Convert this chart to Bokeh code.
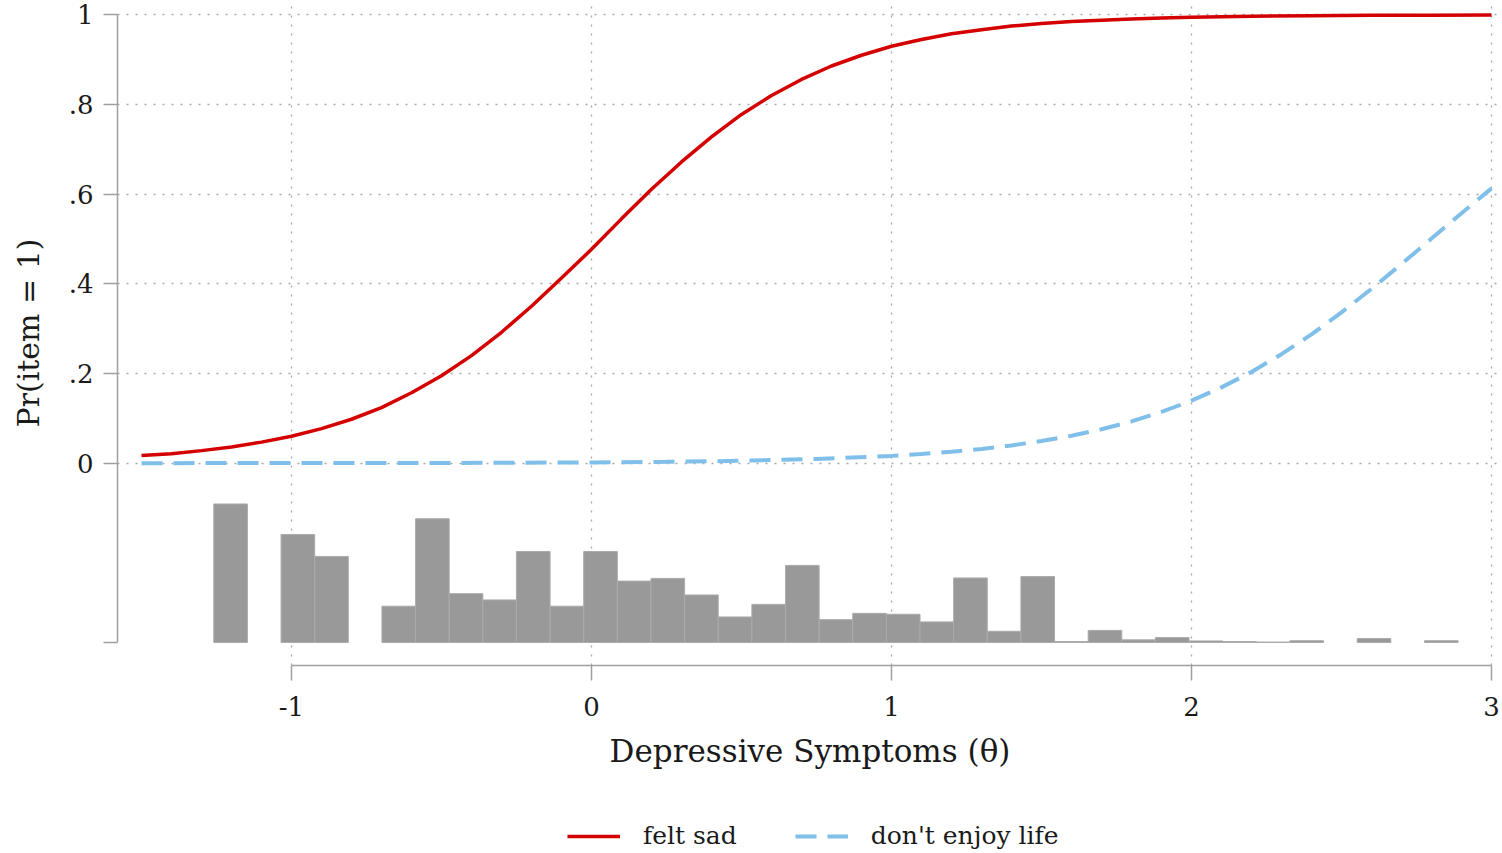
import numpy as np
from bokeh.plotting import figure
from bokeh.layouts import column
from bokeh.models import Range1d, FixedTicker, Legend, LegendItem, ColumnDataSource
from bokeh.embed import file_html
from bokeh.resources import INLINE

# ---- data ----
theta_sad = [-1.5, -1.4, -1.3, -1.2, -1.1, -1.0, -0.9, -0.8, -0.7, -0.6, -0.5, -0.4, -0.3,
             -0.2, -0.1, 0.0, 0.1, 0.2, 0.3, 0.4, 0.5, 0.6, 0.7, 0.8, 0.9, 1.0, 1.1, 1.2,
             1.3, 1.4, 1.5, 1.6, 1.7, 1.8, 1.9, 2.0, 2.2, 2.4, 2.6, 2.8, 3.0]
pr_sad = [0.017, 0.021, 0.028, 0.036, 0.047, 0.060, 0.077, 0.098, 0.124, 0.157, 0.195, 0.240,
          0.292, 0.350, 0.413, 0.477, 0.545, 0.611, 0.672, 0.728, 0.778, 0.820, 0.856, 0.886,
          0.910, 0.930, 0.945, 0.958, 0.967, 0.975, 0.981, 0.985, 0.988, 0.991, 0.993,
          0.995, 0.997, 0.998, 0.999, 0.999, 1.000]

theta_enjoy = [-1.5, -1.0, -0.5, 0.0, 0.25, 0.5, 0.75, 1.0, 1.1, 1.2, 1.3, 1.4, 1.5, 1.6,
               1.7, 1.8, 1.9, 2.0, 2.1, 2.2, 2.3, 2.4, 2.5, 2.6, 2.7, 2.8, 2.9, 3.0]
pr_enjoy = [0.0001, 0.0002, 0.0005, 0.0017, 0.003, 0.0053, 0.0093, 0.0163, 0.0204, 0.0255,
            0.0318, 0.0396, 0.0493, 0.0611, 0.0756, 0.0931, 0.1143, 0.1394, 0.1691, 0.2036,
            0.2431, 0.2874, 0.3363, 0.3889, 0.4442, 0.5010, 0.5577, 0.6130]

# histogram of theta (drawn below the curves, heights in plot units above the base)
hist_start = -1.259
hist_width = 0.1121
hist_base = -0.4
hist_heights = [0.309, 0.0, 0.241, 0.192, 0.0, 0.081, 0.276, 0.109, 0.095, 0.203, 0.081,
                0.203, 0.137, 0.143, 0.106, 0.057, 0.085, 0.172, 0.051, 0.065, 0.063, 0.046,
                0.144, 0.025, 0.147, 0.002, 0.027, 0.006, 0.011, 0.0035, 0.002, 0.001, 0.004,
                0.0, 0.009, 0.0, 0.004]

x_ticks = [-1, 0, 1, 2, 3]
x_tick_labels = ["-1", "0", "1", "2", "3"]
y_ticks = [0, 0.2, 0.4, 0.6, 0.8, 1]
y_tick_labels = ["0", ".2", ".4", ".6", ".8", "1"]

series_labels = ["felt sad", "don't enjoy life"]
x_title = "Depressive Symptoms (θ)"
y_title = "Pr(item = 1)"

FONT = "DejaVu Serif"
RED = "#d40000"
BLUE = "#80bfea"
AXIS = "#a0a0a0"
SAD_STYLE = dict(line_color=RED, line_width=3.5)
ENJOY_STYLE = dict(line_color=BLUE, line_width=4, line_dash="21 11")

p = figure(width=1502, height=780, output_backend="svg", toolbar_location=None,
           x_range=Range1d(-1.58, 3.0367), y_range=Range1d(-0.4513, 1.0321),
           min_border_left=117, min_border_right=0, min_border_top=0,
           min_border_bottom=115)
p.outline_line_color = None
p.background_fill_color = "white"
p.border_fill_color = "white"

# histogram
edges = hist_start + hist_width * np.arange(len(hist_heights) + 1)
h = np.array(hist_heights)
mask = h > 0
src = ColumnDataSource(dict(left=edges[:-1][mask], right=edges[1:][mask],
                            top=hist_base + h[mask], bottom=np.full(mask.sum(), hist_base)))
p.quad(left="left", right="right", top="top", bottom="bottom", source=src,
       fill_color="#999999", line_color="#ababab", line_width=1)

p.line(theta_sad, pr_sad, **SAD_STYLE)
p.line(theta_enjoy, pr_enjoy, **ENJOY_STYLE)

# axes
for ax in (p.xaxis, p.yaxis):
    ax.axis_line_color = AXIS
    ax.axis_line_width = 1.5
    ax.major_tick_line_color = AXIS
    ax.major_tick_line_width = 1.5
    ax.major_tick_in = 0
    ax.minor_tick_line_color = None
    ax.major_label_text_font = FONT
    ax.major_label_text_font_size = "26px"
    ax.major_label_text_color = "#1a1a1a"
    ax.axis_label_text_font = FONT
    ax.axis_label_text_font_style = "normal"
    ax.axis_label_text_color = "#1a1a1a"

p.xaxis.ticker = FixedTicker(ticks=x_ticks)
p.xaxis.major_label_overrides = dict(zip(x_ticks, x_tick_labels))
p.xaxis.bounds = (x_ticks[0], x_ticks[-1])
p.xaxis.major_tick_out = 15
p.xaxis.major_label_standoff = 16
p.xaxis.axis_label = x_title
p.xaxis.axis_label_text_font_size = "31px"
p.xaxis.axis_label_standoff = 14

p.yaxis.ticker = FixedTicker(ticks=[hist_base] + y_ticks)
ov = {hist_base: ""}
ov.update(dict(zip(y_ticks, y_tick_labels)))
p.yaxis.major_label_overrides = ov
p.yaxis.bounds = (hist_base, 1)
p.yaxis.major_tick_out = 14
p.yaxis.major_label_standoff = 10
p.yaxis.major_label_orientation = "horizontal"
p.yaxis.axis_label = y_title
p.yaxis.axis_label_text_font_size = "30px"
p.yaxis.axis_label_standoff = 20

# grids
p.xgrid.ticker = FixedTicker(ticks=x_ticks)
p.ygrid.ticker = FixedTicker(ticks=y_ticks)
for g in (p.xgrid, p.ygrid):
    g.grid_line_color = "#a8a8a8"
    g.grid_line_dash = "2 7"
    g.grid_line_width = 1.3

# legend strip under the chart (its lines use the same series, kept out of view)
lg = figure(width=1502, height=73, output_backend="svg", toolbar_location=None,
            x_range=Range1d(10, 11), y_range=Range1d(10, 11), x_axis_type=None,
            y_axis_type=None, min_border=0)
lg.outline_line_color = None
lg.grid.visible = False
k_sad = lg.line(theta_sad, pr_sad, **SAD_STYLE)
k_enj = lg.line(theta_enjoy, pr_enjoy, **ENJOY_STYLE)
legend = Legend(items=[LegendItem(label=series_labels[0], renderers=[k_sad]),
                       LegendItem(label=series_labels[1], renderers=[k_enj])],
                orientation="horizontal", location=(450, 3),
                glyph_width=53, glyph_height=20, label_standoff=23, spacing=58,
                padding=0, margin=0, border_line_color=None, background_fill_alpha=0,
                label_text_font=FONT, label_text_font_size="25px",
                label_text_color="#1a1a1a")
lg.add_layout(legend)

layout = column(p, lg, spacing=0)
open("out.html", "w").write(file_html(layout, INLINE))
